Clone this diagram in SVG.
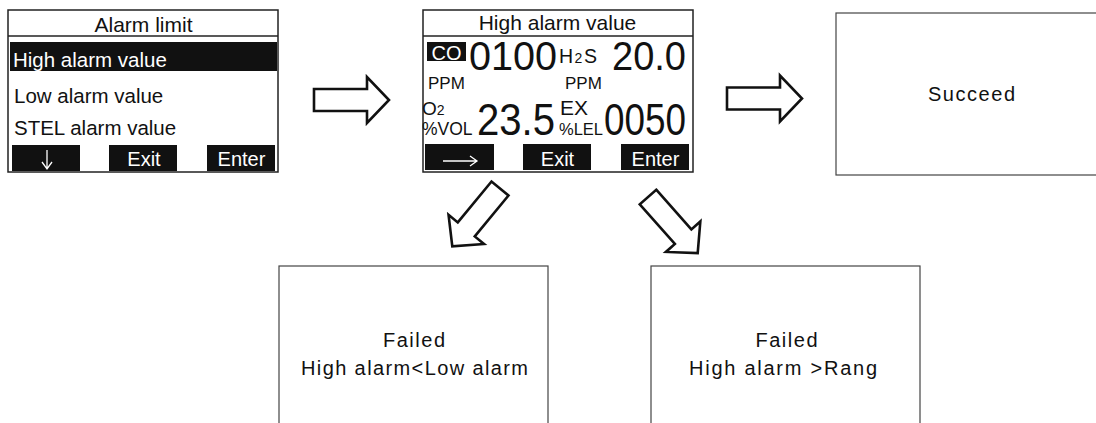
<svg xmlns="http://www.w3.org/2000/svg" width="1096" height="423" viewBox="0 0 1096 423">
<style>
  text{font-family:"Liberation Sans",Arial,sans-serif;fill:#111}
  .scr{fill:#fff;stroke:#222;stroke-width:1.5}
  .sep{stroke:#222;stroke-width:1.5}
  .bar{fill:#111}
  .w{fill:#fff}
  .ico{fill:none;stroke:#fff;stroke-width:1.3}
  .box{fill:#fff;stroke:#444;stroke-width:1.2}
  .arr{fill:#fff;stroke:#111;stroke-width:2.6;stroke-linejoin:miter}
  .lbl{font-size:20px}
  .btn{font-size:20px;fill:#fff}
  .big{font-size:40px}
  .sm{font-size:17px}
</style>
<defs>
  <path id="arrowShape" d="M0,-11 H53 V-23 L75,0 L53,23 V11 H0 Z"/>
</defs>

<g id="screen-alarm-limit">
  <rect class="scr" x="8" y="10" width="270" height="162"/>
  <line class="sep" x1="8" y1="36" x2="278" y2="36"/>
  <text x="143.5" y="32" font-size="21" text-anchor="middle">Alarm limit</text>
  <rect class="bar" x="10" y="42" width="267" height="29"/>
  <text x="13" y="67" font-size="20.5" class="w">High alarm value</text>
  <text x="14" y="103" font-size="20.5">Low alarm value</text>
  <text x="14" y="135" font-size="20.5">STEL alarm value</text>
  <rect class="bar" x="12" y="145" width="68" height="26"/>
  <rect class="bar" x="109" y="145" width="68" height="26"/>
  <rect class="bar" x="207" y="145" width="68" height="26"/>
  <path class="ico" d="M47,150 V169 M42,162 L47,169 L52,162"/>
  <text x="144" y="166" class="btn" text-anchor="middle">Exit</text>
  <text x="241.5" y="166" class="btn" text-anchor="middle">Enter</text>
</g>

<g id="screen-high-alarm">
  <rect class="scr" x="423" y="10" width="270" height="162"/>
  <line class="sep" x1="423" y1="36" x2="693" y2="36"/>
  <text x="557.5" y="30" font-size="21" text-anchor="middle">High alarm value</text>
  <rect class="bar" x="427" y="42" width="39" height="19"/>
  <text x="446.5" y="59.5" font-size="20" class="w" text-anchor="middle">CO</text>
  <text x="469" y="69.5" class="big" textLength="88" lengthAdjust="spacingAndGlyphs">0100</text>
  <text x="559" y="63" font-size="19.5" letter-spacing="1.5">H<tspan font-size="14">2</tspan>S</text>
  <text x="686" y="69.5" class="big" text-anchor="end" textLength="74" lengthAdjust="spacingAndGlyphs">20.0</text>
  <text x="428" y="89" class="sm">PPM</text>
  <text x="565" y="89" class="sm">PPM</text>
  <text x="422" y="115" font-size="19">O<tspan font-size="14">2</tspan></text>
  <text x="422" y="135" font-size="17.5">%VOL</text>
  <text x="477" y="135" font-size="44" textLength="78" lengthAdjust="spacingAndGlyphs">23.5</text>
  <text x="560" y="115" font-size="21">EX</text>
  <text x="559" y="135" font-size="16.5">%LEL</text>
  <text x="604" y="135" font-size="44" textLength="82" lengthAdjust="spacingAndGlyphs">0050</text>
  <rect class="bar" x="425" y="144" width="69" height="26"/>
  <rect class="bar" x="523" y="144" width="68" height="26"/>
  <rect class="bar" x="621" y="144" width="68" height="26"/>
  <path class="ico" d="M443,161 H477 M470,156 L477,161 L470,166"/>
  <text x="557.5" y="166" class="btn" text-anchor="middle">Exit</text>
  <text x="655.5" y="166" class="btn" text-anchor="middle">Enter</text>
</g>

<g id="succeed">
  <rect class="box" x="836" y="13" width="270" height="162"/>
  <text x="971.5" y="101" class="lbl" text-anchor="middle" textLength="87" lengthAdjust="spacing">Succeed</text>
</g>

<g id="failed-low">
  <rect class="box" x="279" y="266" width="269" height="170"/>
  <text x="414" y="347" class="lbl" text-anchor="middle" textLength="62" lengthAdjust="spacing">Failed</text>
  <text x="414.5" y="375" class="lbl" text-anchor="middle" textLength="227" lengthAdjust="spacing">High alarm&lt;Low alarm</text>
</g>

<g id="failed-rang">
  <rect class="box" x="651" y="266" width="269" height="170"/>
  <text x="786.5" y="347" class="lbl" text-anchor="middle" textLength="62" lengthAdjust="spacing">Failed</text>
  <text x="783" y="375" class="lbl" text-anchor="middle" textLength="188" lengthAdjust="spacing">High alarm &gt;Rang</text>
</g>

<g id="connectors">
  <use href="#arrowShape" class="arr" transform="translate(314,100)"/>
  <use href="#arrowShape" class="arr" transform="translate(727,98.5)"/>
  <use href="#arrowShape" class="arr" transform="translate(500,188.5) rotate(129.5)"/>
  <use href="#arrowShape" class="arr" transform="translate(648,197) rotate(48.5)"/>
</g>
</svg>
